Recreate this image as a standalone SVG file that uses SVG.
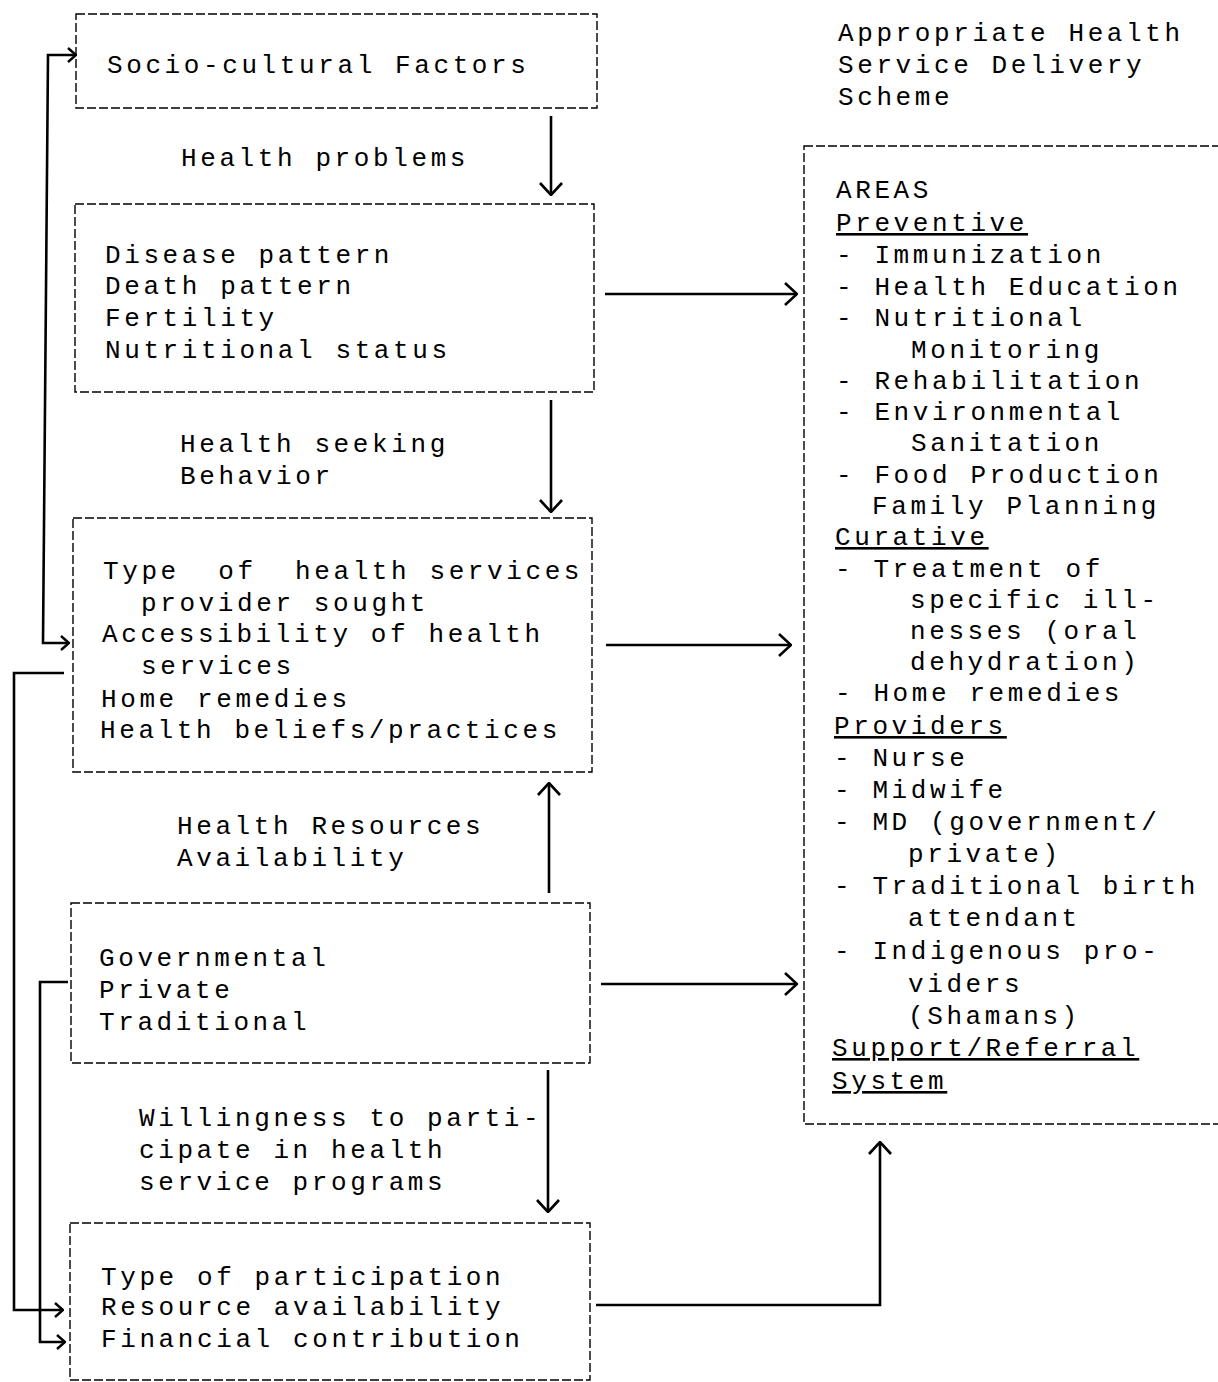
<svg xmlns="http://www.w3.org/2000/svg" width="1218" height="1382" viewBox="0 0 1218 1382">
<style>
text{font-family:"Liberation Mono","Courier New",monospace;font-size:26px;letter-spacing:3.6px;fill:#000;white-space:pre}
.box{fill:none;stroke:#000;stroke-width:1.4;stroke-dasharray:9 3}
.con{fill:none;stroke:#000;stroke-width:2.6}
.u{text-decoration:underline}
</style>
<defs>
<marker id="ah" markerUnits="userSpaceOnUse" viewBox="0 0 14 24" refX="13" refY="12" markerWidth="14" markerHeight="24" orient="auto-start-reverse">
<path d="M1,1 L13,12 L1,23" fill="none" stroke="#000" stroke-width="2.6"/>
</marker>
<marker id="as" markerUnits="userSpaceOnUse" viewBox="0 0 10 16" refX="9" refY="8" markerWidth="10" markerHeight="16" orient="auto-start-reverse">
<path d="M1,1 L9,8 L1,15" fill="none" stroke="#000" stroke-width="2.4"/>
</marker>
</defs>

<g id="n-socio">
<rect class="box" x="76" y="14" width="521" height="94"/>
<text x="107" y="73">Socio-cultural Factors</text>
</g>

<g id="n-health-status">
<rect class="box" x="75" y="204" width="519" height="188"/>
<text x="105" y="263">Disease pattern</text>
<text x="105" y="294">Death pattern</text>
<text x="105" y="326">Fertility</text>
<text x="105" y="358">Nutritional status</text>
</g>

<g id="n-behavior">
<rect class="box" x="73" y="518" width="519" height="254"/>
<text x="103" y="579">Type  of  health services</text>
<text x="141" y="611">provider sought</text>
<text x="102" y="642">Accessibility of health</text>
<text x="141" y="674">services</text>
<text x="101" y="707">Home remedies</text>
<text x="100" y="738">Health beliefs/practices</text>
</g>

<g id="n-resources">
<rect class="box" x="71" y="903" width="519" height="160"/>
<text x="99" y="966">Governmental</text>
<text x="99" y="998">Private</text>
<text x="99" y="1030">Traditional</text>
</g>

<g id="n-participation">
<rect class="box" x="70" y="1223" width="520" height="157"/>
<text x="101" y="1285">Type of participation</text>
<text x="101" y="1315">Resource availability</text>
<text x="101" y="1347">Financial contribution</text>
</g>

<g id="n-scheme">
<text x="838" y="41">Appropriate Health</text>
<text x="838" y="73">Service Delivery</text>
<text x="838" y="105">Scheme</text>
<rect class="box" x="804" y="146" width="440" height="978"/>
<text x="836" y="198">AREAS</text>
<text x="836" y="231" class="u">Preventive</text>
<text x="836" y="263">- Immunization</text>
<text x="836" y="295">- Health Education</text>
<text x="836" y="326">- Nutritional</text>
<text x="911" y="358">Monitoring</text>
<text x="836" y="389">- Rehabilitation</text>
<text x="836" y="420">- Environmental</text>
<text x="911" y="451">Sanitation</text>
<text x="836" y="483">- Food Production</text>
<text x="872" y="514">Family Planning</text>
<text x="835" y="545" class="u">Curative</text>
<text x="835" y="577">- Treatment of</text>
<text x="910" y="608">specific ill-</text>
<text x="910" y="639">nesses (oral</text>
<text x="910" y="670">dehydration)</text>
<text x="835" y="701">- Home remedies</text>
<text x="834" y="734" class="u">Providers</text>
<text x="834" y="766">- Nurse</text>
<text x="834" y="798">- Midwife</text>
<text x="834" y="830">- MD (government/</text>
<text x="908" y="862">private)</text>
<text x="834" y="894">- Traditional birth</text>
<text x="908" y="926">attendant</text>
<text x="834" y="959">- Indigenous pro-</text>
<text x="908" y="992">viders</text>
<text x="908" y="1024">(Shamans)</text>
<text x="832" y="1056" class="u">Support/Referral</text>
<text x="832" y="1089" class="u">System</text>
</g>

<g id="connectors">
<path class="con" d="M551,116 V195" marker-end="url(#ah)"/>
<path class="con" d="M551,400 V512" marker-end="url(#ah)"/>
<path class="con" d="M549,893 V783" marker-end="url(#ah)"/>
<path class="con" d="M548,1070 V1212" marker-end="url(#ah)"/>
<path class="con" d="M605,294 H797" marker-end="url(#ah)"/>
<path class="con" d="M606,645 H791" marker-end="url(#ah)"/>
<path class="con" d="M601,984 H797" marker-end="url(#ah)"/>
<path class="con" d="M596,1305 H880 V1142" marker-end="url(#ah)"/>
<path class="con" d="M76,55 H48 L43,643 H69" marker-start="url(#as)" marker-end="url(#as)"/>
<path class="con" d="M64,673 H14 V1310 H63" marker-end="url(#as)"/>
<path class="con" d="M68,982 H40 V1342 H65" marker-end="url(#as)"/>
<text x="181" y="166">Health problems</text>
<text x="180" y="452">Health seeking</text>
<text x="180" y="484">Behavior</text>
<text x="177" y="834">Health Resources</text>
<text x="177" y="866">Availability</text>
<text x="139" y="1126">Willingness to parti-</text>
<text x="139" y="1158">cipate in health</text>
<text x="139" y="1190">service programs</text>
</g>
</svg>
